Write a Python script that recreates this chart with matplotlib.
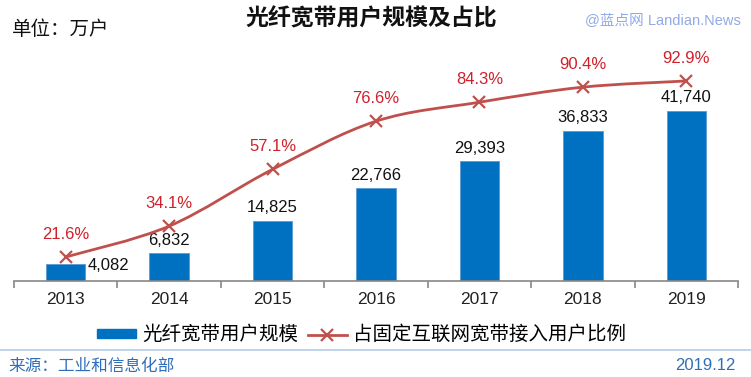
import matplotlib
matplotlib.use("Agg")
import matplotlib.pyplot as plt
from matplotlib.path import Path
from matplotlib.patches import PathPatch, Patch
from matplotlib.lines import Line2D
import numpy as np

plt.rcParams['font.family'] = ['Liberation Sans', 'Noto Sans CJK SC']

years = ['2013', '2014', '2015', '2016', '2017', '2018', '2019']
users = [4082, 6832, 14825, 22766, 29393, 36833, 41740]       # 万户
share = [21.6, 34.1, 57.1, 76.6, 84.3, 90.4, 92.9]             # %

W, H = 751, 377
fig = plt.figure(figsize=(W / 100, H / 100), dpi=100)
ax = fig.add_axes([14 / W, (H - 281) / H, 724 / W, 221 / H])
ax2 = ax.twinx()

blue = '#0070C0'
red = '#C0504D'
red_txt = '#D0202A'

x = np.arange(len(years))
ax.bar(x, users, width=0.38, color=blue, edgecolor='#5B9BD5', linewidth=0.6, zorder=2)
ax.set_xlim(-0.5, len(years) - 0.5)
ax.set_ylim(0, 54260)
ax2.set_ylim(11.87, 101.4)

for i, v in enumerate(users):
    if i == 0:
        ax.annotate(f'{v:,}', (x[i] + 0.2, v), xytext=(1, -1), textcoords='offset points',
                    ha='left', va='center', fontsize=12, color='#111111')
    else:
        ax.annotate(f'{v:,}', (x[i], v), xytext=(0, 4), textcoords='offset points',
                    ha='center', va='bottom', fontsize=12, color='#111111')

# smooth line (Catmull-Rom as cubic bezier through the data points)
pts = np.column_stack([x, share]).astype(float)
verts = [tuple(pts[0])]
codes = [Path.MOVETO]
n = len(pts)
for i in range(n - 1):
    p0 = pts[max(i - 1, 0)]
    p1 = pts[i]
    p2 = pts[i + 1]
    p3 = pts[min(i + 2, n - 1)]
    c1 = p1 + (p2 - p0) / 6
    c2 = p2 - (p3 - p1) / 6
    verts += [tuple(c1), tuple(c2), tuple(p2)]
    codes += [Path.CURVE4] * 3
ax2.add_patch(PathPatch(Path(verts, codes), facecolor='none', edgecolor=red, lw=2, zorder=3))
ax2.plot(x, share, linestyle='none', marker='x', markersize=8, mew=1.6, color=red, zorder=4)
for i, v in enumerate(share):
    ax2.annotate(f'{v}%', (x[i], v), xytext=(0, 11), textcoords='offset points',
                 ha='center', va='bottom', fontsize=12, color=red_txt)

for a in (ax, ax2):
    for s in ('top', 'left', 'right'):
        a.spines[s].set_visible(False)
    a.set_yticks([])
ax.spines['bottom'].set_color('#888888')
ax.spines['bottom'].set_linewidth(1.2)
ax2.spines['bottom'].set_visible(False)

ax.set_xticks(np.arange(-0.5, len(years), 1.0))
ax.set_xticklabels([])
ax.set_xticks(x, minor=True)
ax.set_xticklabels(years, minor=True, fontsize=12.5, color='#222222')
ax.tick_params(axis='x', which='major', direction='out', length=5, color='#888888', width=1.2)
ax.tick_params(axis='x', which='minor', length=0, pad=8)

fig.text(371 / W, 1 - 19 / H, '光纤宽带用户规模及占比', ha='center', va='center',
         fontsize=16.5, fontweight='bold', color='#111111')
fig.text(12 / W, 1 - 30 / H, '单位：万户', ha='left', va='center', fontsize=14, color='#111111')
fig.text(741 / W, 1 - 20 / H, '@蓝点网 Landian.News', ha='right', va='center',
         fontsize=10.5, color='#92A9E8')

handles = [Patch(facecolor=blue, edgecolor=blue),
           Line2D([], [], color=red, lw=2, marker='x', markersize=8, mew=1.6)]
fig.legend(handles, ['光纤宽带用户规模', '占固定互联网宽带接入用户比例'], loc='center',
           bbox_to_anchor=(361.5 / W, 1 - 335 / H), ncol=2, frameon=False, fontsize=14,
           handlelength=2.0, handleheight=0.3, columnspacing=0.5, handletextpad=0.3,
           borderpad=0, borderaxespad=0)

fig.add_artist(Line2D([0, 1], [1 - 350 / H] * 2, color='#B4CDE8', lw=1.2))
fig.text(8 / W, 1 - 366 / H, '来源：工业和信息化部', ha='left', va='center', fontsize=12, color='#2F6EBA')
fig.text(735 / W, 1 - 366 / H, '2019.12', ha='right', va='center', fontsize=12, color='#2F6EBA')

fig.savefig('out.png', dpi=100)
